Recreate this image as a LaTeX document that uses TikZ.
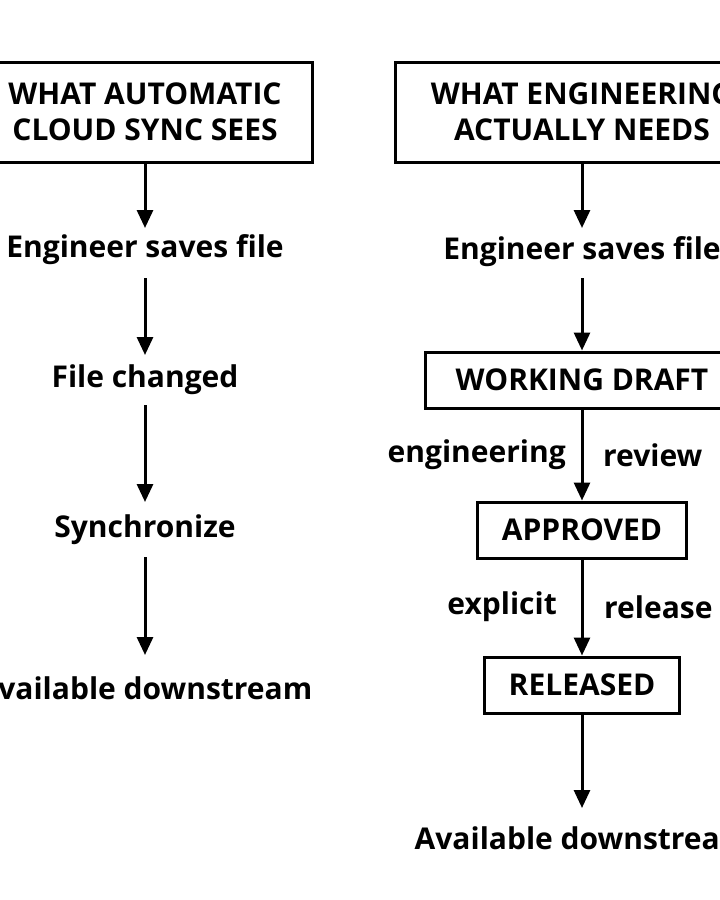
\documentclass[tikz,border=0pt]{standalone}
\usepackage{fontspec}
\setmainfont{Open Sans}
\usetikzlibrary{arrows.meta}
\begin{document}
\begin{tikzpicture}[x=1pt,y=-1pt,
  box/.style={draw,line width=3pt,inner sep=0pt,align=center,font=\fontsize{30}{36}\selectfont\bfseries},
  txt/.style={inner sep=0pt,font=\fontsize{30}{36}\selectfont\bfseries},
  lab/.style={inner sep=0pt,font=\fontsize{30}{36}\selectfont\bfseries},
  arr/.style={line width=3pt,-{Triangle[width=16pt,length=18pt]}}]
\clip (0,0) rectangle (720,900);
\useasboundingbox (0,0) rectangle (720,900);
% left
\node[box,minimum width=334pt,minimum height=100pt] (lh) at (145,112) {WHAT AUTOMATIC\\CLOUD SYNC SEES};
\node[txt] (l1) at (145,250) {Engineer saves file};
\node[txt] (l2) at (145,380) {File changed};
\node[txt] (l3) at (145,530) {Synchronize};
\node[txt] (l4) at (145,688) {Available downstream};
\draw[arr] (lh.south) -- (145,228);
\draw[arr] (145,278) -- (145,355);
\draw[arr] (145,405) -- (145,502);
\draw[arr] (145,557) -- (145,655);
% right
\node[box,minimum width=374pt,minimum height=100pt] (rh) at (582,112) {WHAT ENGINEERING\\ACTUALLY NEEDS};
\node[txt] (r1) at (582,252) {Engineer saves file};
\node[box,minimum width=314pt,minimum height=56pt] (wd) at (582,380) {WORKING DRAFT};
\node[box,minimum width=209pt,minimum height=56pt] (ap) at (582,530) {APPROVED};
\node[box,minimum width=195pt,minimum height=56pt] (rel) at (582,685) {RELEASED};
\node[txt] (r2) at (582,838) {Available downstream};
\draw[arr] (rh.south) -- (582,228);
\draw[arr] (582,278) -- (wd.north);
\draw[arr] (wd.south) -- (ap.north);
\draw[arr] (ap.south) -- (rel.north);
\draw[arr] (rel.south) -- (582,808);
\node[lab,anchor=east] (e1) at (566,455) {engineering};
\node[lab,anchor=west] (e2) at (603,455) {review};
\node[lab,anchor=east] (e3) at (557,607) {explicit};
\node[lab,anchor=west] (e4) at (604,607) {release};
\end{tikzpicture}
\end{document}
